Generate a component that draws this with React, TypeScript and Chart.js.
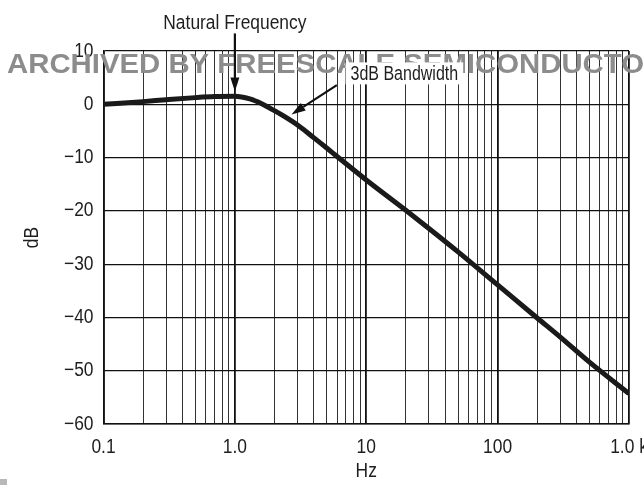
import React, { useEffect, useRef } from "react";
import { Chart, registerables } from "chart.js";

Chart.register(...registerables);

// ---- data ----
const frequencyHz = [0.1, 0.2, 0.3, 0.5, 0.7, 1.0, 1.3, 1.6, 2.0, 2.5, 3.0, 4.0, 5.0, 6.0, 10, 20, 30, 50, 100, 200, 300, 500, 1000];
const gainDb = [0, 0.5, 0.85, 1.25, 1.45, 1.5, 1.0, 0.1, -1.2, -2.6, -3.9, -6.3, -8.2, -9.8, -14.2, -19.9, -23.3, -27.7, -33.9, -40.1, -43.7, -48.4, -54.3];

const decadeValues = [0.1, 1, 10, 100, 1000];
const decadeLabels = ["0.1", "1.0", "10", "100", "1.0 k"];
const minorMultipliers = [2, 3, 4, 5, 6, 7, 8, 9];

const yTickValues = [10, 0, -10, -20, -30, -40, -50, -60];
const yTickLabels = ["10", "0", "\u221210", "\u221220", "\u221230", "\u221240", "\u221250", "\u221260"];

const xTitle = "Hz";
const yTitle = "dB";
const watermarkText = "ARCHIVED BY FREESCALE SEMICONDUCTOR";
const naturalLabel = "Natural Frequency";
const bandwidthLabel = "3dB Bandwidth";
// annotation anchors in data units [Hz, dB]
const naturalArrowFrom = [1.0, 13.3];
const naturalArrowTo = [1.0, 2.4];
const naturalTextAt = [1.0, 14.2];
const bandwidthArrowFrom = [5.97, 3.6];
const bandwidthArrowTo = [2.7, -1.9];
const bandwidthTextAt = [19.5, 5.8];

const FONT = "'Liberation Sans', Arial, sans-serif";
const CONDENSE = 0.87;

const allXTicks: number[] = [];
decadeValues.forEach((d, i) => {
  allXTicks.push(d);
  if (i < decadeValues.length - 1) {
    minorMultipliers.forEach((m) => allXTicks.push(parseFloat((m * d).toPrecision(6))));
  }
});

const isDecade = (v: number) => decadeValues.some((d) => Math.abs(v - d) / d < 1e-6);

function drawArrow(ctx: CanvasRenderingContext2D, x1: number, y1: number, x2: number, y2: number) {
  const ang = Math.atan2(y2 - y1, x2 - x1);
  const hl = 14;
  const hw = 4.5;
  const bx = x2 - hl * Math.cos(ang);
  const by = y2 - hl * Math.sin(ang);
  ctx.beginPath();
  ctx.moveTo(x1, y1);
  ctx.lineTo(bx, by);
  ctx.lineWidth = 2.2;
  ctx.strokeStyle = "#111";
  ctx.stroke();
  ctx.beginPath();
  ctx.moveTo(x2, y2);
  ctx.lineTo(bx + hw * Math.sin(ang), by - hw * Math.cos(ang));
  ctx.lineTo(bx - hw * Math.sin(ang), by + hw * Math.cos(ang));
  ctx.closePath();
  ctx.fillStyle = "#111";
  ctx.fill();
}

function narrowText(ctx: CanvasRenderingContext2D, text: string, x: number, y: number, k: number) {
  ctx.save();
  ctx.translate(x, y);
  ctx.scale(k, 1);
  ctx.fillText(text, 0, 0);
  ctx.restore();
}

const condensePlugin = {
  id: "condense",
  beforeDraw(chart: any) {
    const ctx: any = chart.ctx;
    const orig = CanvasRenderingContext2D.prototype.fillText;
    ctx.fillText = function (text: string, x: number, y: number, maxW?: number) {
      this.save();
      this.translate(x, y);
      this.scale(CONDENSE, 1);
      if (maxW === undefined || maxW === null) orig.call(this, text, 0, 0);
      else orig.call(this, text, 0, 0, maxW / CONDENSE);
      this.restore();
    };
  },
  afterDraw(chart: any) {
    delete chart.ctx.fillText;
  },
};

const overlayPlugin = {
  id: "overlay",
  afterDraw(chart: any) {
    const ctx: CanvasRenderingContext2D = chart.ctx;
    delete (ctx as any).fillText;
    const xs = chart.scales.x;
    const ys = chart.scales.y;
    const px = (p: number[]) => [xs.getPixelForValue(p[0]), ys.getPixelForValue(p[1])];

    // watermark
    ctx.save();
    ctx.font = "bold 28px 'Liberation Sans', Arial, sans-serif";
    ctx.fillStyle = "#8c8c8c";
    ctx.textBaseline = "alphabetic";
    ctx.textAlign = "left";
    const partW = ctx.measureText(watermarkText.slice(0, -1)).width;
    const sx = (644 - 7) / partW;
    ctx.translate(7, 73);
    ctx.scale(sx, 1);
    ctx.fillText(watermarkText, 0, 0);
    ctx.restore();

    // 3dB label box
    ctx.save();
    ctx.font = "20px " + FONT;
    const kB = 0.8;
    const [tx, ty] = px(bandwidthTextAt);
    const tw = ctx.measureText(bandwidthLabel).width * kB;
    ctx.fillStyle = "#fff";
    ctx.fillRect(tx - tw / 2 - 5, ty - 11, tw + 10, 22);
    ctx.fillStyle = "#1e1e1e";
    ctx.textAlign = "center";
    ctx.textBaseline = "middle";
    narrowText(ctx, bandwidthLabel, tx, ty + 1, kB);

    // natural frequency label
    const [nx, ny] = px(naturalTextAt);
    ctx.textBaseline = "alphabetic";
    narrowText(ctx, naturalLabel, nx, ny, 0.87);
    ctx.restore();

    ctx.save();
    const a1 = px(naturalArrowFrom);
    const a2 = px(naturalArrowTo);
    drawArrow(ctx, a1[0], a1[1], a2[0], a2[1]);
    const b1 = px(bandwidthArrowFrom);
    const b2 = px(bandwidthArrowTo);
    drawArrow(ctx, b1[0], b1[1], b2[0], b2[1]);
    ctx.fillStyle = "#b8b8b8";
    ctx.fillRect(0, 479, 7, 6);
    ctx.restore();
  },
};

export default function App() {
  const canvasRef = useRef<HTMLCanvasElement | null>(null);

  useEffect(() => {
    if (!canvasRef.current) return;
    const chart = new Chart(canvasRef.current, {
      type: "line",
      data: {
        datasets: [
          {
            data: frequencyHz.map((f, i) => ({ x: f, y: gainDb[i] })),
            borderColor: "#1a1a1a",
            borderWidth: 5,
            pointRadius: 0,
            cubicInterpolationMode: "monotone",
            fill: false,
          },
        ],
      },
      options: {
        animation: false,
        responsive: true,
        maintainAspectRatio: false,
        layout: { padding: { left: 0, top: 51, right: 41, bottom: 0 } },
        plugins: { legend: { display: false }, tooltip: { enabled: false } },
        scales: {
          x: {
            type: "logarithmic",
            min: 0.1,
            max: 1000,
            afterBuildTicks: (scale: any) => {
              scale.ticks = allXTicks.map((v) => ({ value: v }));
            },
            afterFit: (scale: any) => {
              scale.height = 61;
            },
            ticks: {
              autoSkip: false,
              maxRotation: 0,
              padding: 11,
              color: "#1e1e1e",
              font: { family: FONT, size: 20 },
              callback: (value: any) => {
                const idx = decadeValues.findIndex((d) => Math.abs(Number(value) - d) / d < 1e-6);
                return idx >= 0 ? decadeLabels[idx] : "";
              },
            },
            grid: {
              drawTicks: false,
              color: (c: any) => (c.tick && isDecade(c.tick.value) ? "#111" : "#333"),
              lineWidth: (c: any) => (c.tick && isDecade(c.tick.value) ? 1.8 : 1),
            },
            border: { display: true, color: "#111", width: 1.5 },
            title: {
              display: true,
              text: xTitle,
              color: "#1e1e1e",
              font: { family: FONT, size: 20 },
              padding: { top: 0, bottom: 2 },
            },
          },
          y: {
            type: "linear",
            min: -60,
            max: 10,
            afterBuildTicks: (scale: any) => {
              scale.ticks = yTickValues.map((v) => ({ value: v }));
            },
            afterFit: (scale: any) => {
              scale.width = 103.5;
            },
            ticks: {
              padding: 10,
              color: "#1e1e1e",
              font: { family: FONT, size: 20 },
              callback: (value: any) => {
                const idx = yTickValues.indexOf(Number(value));
                return idx >= 0 ? yTickLabels[idx] : "";
              },
            },
            grid: { drawTicks: false, color: "#111", lineWidth: 1.2 },
            border: { display: true, color: "#111", width: 1.5 },
            title: {
              display: true,
              text: yTitle,
              color: "#1e1e1e",
              font: { family: FONT, size: 20 },
              padding: { top: 20, bottom: 0 },
            },
          },
        },
      },
      plugins: [condensePlugin, overlayPlugin],
    } as any);
    return () => chart.destroy();
  }, []);

  return (
    <div style={{ position: "fixed", left: 0, top: 0, width: 644, height: 485, overflow: "hidden", background: "#fff" }}>
      <div style={{ position: "relative", width: 670, height: 485 }}>
        <canvas ref={canvasRef} />
      </div>
    </div>
  );
}
